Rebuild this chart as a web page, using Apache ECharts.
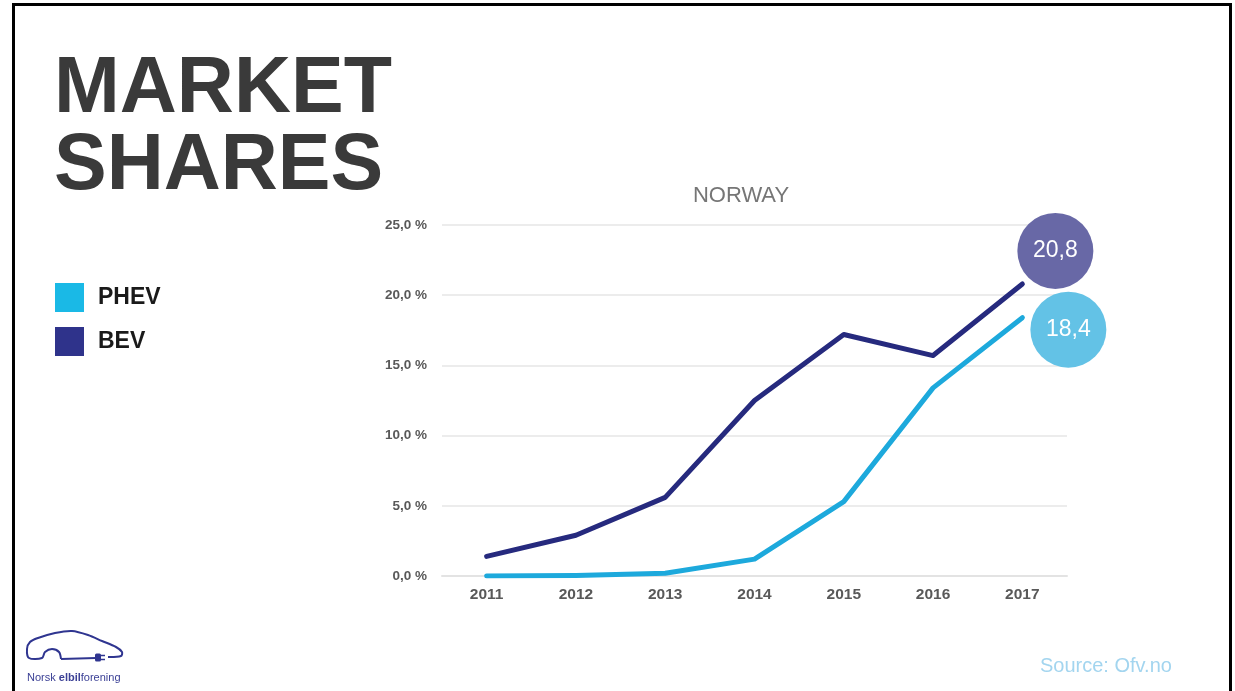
<!DOCTYPE html>
<html><head><meta charset="utf-8">
<script src="https://cdn.jsdelivr.net/npm/echarts@6/dist/echarts.min.js"></script>
<style>html,body{margin:0;padding:0;background:#fff}#c{width:1235px;height:691px}</style>
</head><body><div id="c"></div>
<script>
const years = ['2011','2012','2013','2014','2015','2016','2017'];
const phev = [0.0, 0.03, 0.2, 1.2, 5.3, 13.4, 18.4];
const bev = [1.4, 2.9, 5.6, 12.5, 17.2, 15.7, 20.8];
const seriesNames = ['PHEV', 'BEV'];
const yTicks = [0, 5, 10, 15, 20, 25];

const chart = echarts.init(document.getElementById('c'));
const fmt = v => v.toFixed(1).replace('.', ',');
const navy = '#2f3590';
chart.setOption({
  animation: false,
  backgroundColor: '#fff',
  title: {
    text: 'NORWAY', left: 736, top: 180, textAlign: 'center',
    textStyle: {fontFamily: 'Liberation Sans', fontSize: 22, fontWeight: 'normal', color: '#767676'}
  },
  legend: {
    orient: 'vertical', left: 50, top: 278, itemWidth: 29, itemHeight: 29, itemGap: 15,
    icon: 'rect', selectedMode: false,
    textStyle: {fontFamily: 'Liberation Sans', fontSize: 23, fontWeight: 'bold', color: '#1a1a1a', padding: [3,0,0,9]},
    data: [
      {name: seriesNames[0], itemStyle: {color: '#1ab9e6'}},
      {name: seriesNames[1], itemStyle: {color: '#2f338b'}}
    ]
  },
  grid: {left: 442, right: 168, top: 225, bottom: 115, containLabel: false},
  xAxis: {
    type: 'category', data: years, boundaryGap: true,
    axisLine: {show: true, lineStyle: {color: '#e3e3e3', width: 2}},
    axisTick: {show: false},
    axisLabel: {fontFamily: 'Liberation Sans', fontSize: 15.5, fontWeight: 'bold', color: '#595959', margin: 11}
  },
  yAxis: {
    type: 'value', min: yTicks[0], max: yTicks[yTicks.length - 1], interval: 5,
    axisLine: {show: false}, axisTick: {show: false},
    splitLine: {lineStyle: {color: '#e6e6e6', width: 1.5}},
    axisLabel: {fontFamily: 'Liberation Sans', fontSize: 13.5, fontWeight: 'bold', color: '#595959', margin: 15,
      formatter: v => fmt(v) + ' %'}
  },
  series: [
    {
      name: seriesNames[0], type: 'line', data: phev, showSymbol: false,
      lineStyle: {color: '#1da9dc', width: 5, cap: 'round', join: 'round'},
      itemStyle: {color: '#1ab9e6'}, z: 3,
      markPoint: {
        symbol: 'circle', symbolSize: 76, symbolOffset: [46, 12], silent: true,
        itemStyle: {color: '#63c2e6'},
        label: {show: true, formatter: p => fmt(p.value), color: '#fff', fontFamily: 'Liberation Sans', fontSize: 23},
        data: [{coord: [years[6], phev[6]], value: phev[6]}]
      }
    },
    {
      name: seriesNames[1], type: 'line', data: bev, showSymbol: false,
      lineStyle: {color: '#262a7e', width: 5, cap: 'round', join: 'round'},
      itemStyle: {color: '#2f338b'}, z: 2,
      markPoint: {
        symbol: 'circle', symbolSize: 76, symbolOffset: [33, -33], silent: true,
        itemStyle: {color: '#6868a6'},
        label: {show: true, formatter: p => fmt(p.value), color: '#fff', fontFamily: 'Liberation Sans', fontSize: 23},
        data: [{coord: [years[6], bev[6]], value: bev[6]}]
      }
    }
  ],
  graphic: [
    {type: 'rect', shape: {x: 13.5, y: 4.5, width: 1217, height: 700}, style: {fill: 'transparent', stroke: '#000', lineWidth: 3}, silent: true},
    {type: 'text', x: 54, y: 52, style: {text: 'MARKET\nSHARES', fontFamily: 'Liberation Sans', fontSize: 79, fontWeight: 'bold', fill: '#3a3a3a', lineHeight: 77}},
    {type: 'polyline', shape: {smooth: 0.3, points: [[61,659],[59,652],[52,649],[45,652],[42,658],[29,658],[27,649],[30,642],[38,638],[55,633],[72,631],[88,635],[102,641],[116,647],[122,652],[121,656],[108,657]]},
      style: {fill: 'transparent', stroke: navy, lineWidth: 2}},
    {type: 'line', shape: {x1: 61, y1: 659, x2: 96, y2: 658}, style: {stroke: navy, lineWidth: 2}},
    {type: 'rect', shape: {x: 95, y: 653.5, width: 6, height: 8, r: 1.5}, style: {fill: navy}},
    {type: 'line', shape: {x1: 101, y1: 655.5, x2: 105, y2: 655.5}, style: {stroke: navy, lineWidth: 1.5}},
    {type: 'line', shape: {x1: 101, y1: 659.5, x2: 105, y2: 659.5}, style: {stroke: navy, lineWidth: 1.5}},
    {type: 'text', x: 27, y: 672, style: {text: '{a|Norsk }{b|elbil}{a|forening}', rich: {
      a: {fontFamily: 'Liberation Sans', fontSize: 11, fill: '#3c4196'},
      b: {fontFamily: 'Liberation Sans', fontSize: 11, fontWeight: 'bold', fill: '#3c4196'}}}},
    {type: 'text', x: 1040, y: 656, style: {text: 'Source: Ofv.no', fontFamily: 'Liberation Sans', fontSize: 20, fill: '#a3d5ef'}}
  ]
});
</script></body></html>
